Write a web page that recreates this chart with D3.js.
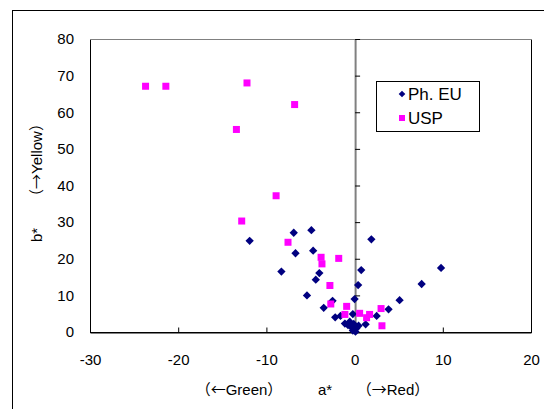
<!DOCTYPE html>
<html>
<head>
<meta charset="utf-8">
<script src="https://cdn.jsdelivr.net/npm/d3@7/dist/d3.min.js"></script>
<style>
    body { margin: 0; background: #fff; }
    svg text { font-family: "Liberation Sans", Arial, sans-serif; fill: #000; }
    svg tspan.cjk { font-family: "Noto Sans CJK JP", sans-serif; }
</style>
</head>
<body>
<svg id="chart" width="544" height="409"></svg>
<script>
'use strict';

// Ph. EU (a*, b*)
var euA = [-11.9, -6.9, -4.9, -6.7, -4.7, -8.3, -4.0, -4.4, -5.4, -2.5, -3.5, -2.2, -1.6,
    -0.2, 0.0, 0.4, 0.75, 1.9, 9.8, 7.6, 5.1, 3.85, 2.5, 1.25, -1.1, -0.75, -0.4, -0.2,
    0.2, 0.45, -0.55, -0.1, 0.1];
var euB = [24.9, 27.1, 27.8, 21.5, 22.2, 16.5, 16.1, 14.3, 10.0, 8.5, 6.6, 4.0, 4.4,
    4.9, 9.0, 12.8, 16.9, 25.3, 17.5, 13.1, 8.7, 6.2, 4.4, 2.1, 2.3, 1.9, 1.4, 0.4,
    1.0, 1.7, 2.8, 2.2, 0.1];

// USP (a*, b*)
var uspA = [-23.7, -21.4, -12.2, -6.8, -13.4, -8.9, -12.8, -7.55, -3.8, -1.8, -3.7, -2.8,
    -2.7, -0.9, 3.0, 0.57, 1.7, 1.36, -1.1, 3.1];
var uspB = [67.1, 67.1, 68.0, 62.1, 55.3, 37.2, 30.3, 24.5, 20.4, 20.1, 18.6, 12.7,
    7.65, 7.0, 6.4, 5.1, 4.8, 3.9, 4.8, 1.7];

var xTicks = [-30, -20, -10, 0, 10, 20];
var yTicks = [0, 10, 20, 30, 40, 50, 60, 70, 80];
var seriesNames = ['Ph. EU', 'USP'];

// text pieces; arrows go through the CJK font like the original
function title(svg, parts, attrs) {
    var t = svg.append('text').attr('text-anchor', 'middle').style('font-size', '15px');
    Object.keys(attrs).forEach(function (k) { t.attr(k, attrs[k]); });
    parts.forEach(function (p) {
        t.append('tspan').attr('class', p[1] ? 'cjk' : null).text(p[0]);
    });
    return t;
}

function draw() {
    var svg = d3.select('#chart');
    var pl = 90, pr = 531, pt = 39, pb = 332;
    var fmt = function (d) { return String(d); };

    var x = d3.scaleLinear().domain([-30, 20]).range([pl, pr]);
    var y = d3.scaleLinear().domain([0, 80]).range([pb, pt]);

    // outer chart frame (only top/left visible in the crop)
    svg.append('rect')
        .attr('x', 12.5).attr('y', 10.5)
        .attr('width', 600).attr('height', 500)
        .attr('fill', 'none').attr('stroke', '#000');

    // plot area
    svg.append('rect')
        .attr('x', pl + 0.5).attr('y', pt + 0.5)
        .attr('width', pr - pl).attr('height', pb - pt)
        .attr('fill', '#fff').attr('stroke', '#000');
    svg.append('line')
        .attr('x1', pl).attr('x2', pr + 1)
        .attr('y1', pt + 0.5).attr('y2', pt + 0.5)
        .attr('stroke', '#808080');

    // y axis line at a*=0, ticks pointing right
    var yAxisG = svg.append('g')
        .attr('transform', 'translate(' + (x(0) + 0.5) + ',0)')
        .call(d3.axisRight(y).tickValues(yTicks).tickSize(5).tickFormat('').tickSizeOuter(0));
    yAxisG.select('.domain').attr('stroke', '#808080').attr('stroke-width', 2);

    // y labels on the left edge
    var yLab = svg.append('g')
        .attr('transform', 'translate(' + pl + ',0)')
        .call(d3.axisLeft(y).tickValues(yTicks).tickSize(0).tickPadding(16).tickFormat(fmt));
    yLab.select('.domain').remove();
    yLab.selectAll('text').style('font-size', '15px');

    // x axis line at b*=0, ticks pointing up
    svg.append('g')
        .attr('transform', 'translate(0,' + (pb + 0.5) + ')')
        .call(d3.axisTop(x).tickValues(xTicks).tickSize(5).tickFormat('').tickSizeOuter(0));

    var xLab = svg.append('g')
        .attr('transform', 'translate(0,' + pb + ')')
        .call(d3.axisBottom(x).tickValues(xTicks).tickSize(0).tickPadding(22).tickFormat(fmt));
    xLab.select('.domain').remove();
    xLab.selectAll('text').style('font-size', '15px');

    // axis titles
    title(svg, [['（←', 1], ['Green'], ['）', 1]], { x: 239, y: 395 });
    title(svg, [['a*']], { x: 325, y: 395 });
    title(svg, [['（→', 1], ['Red'], ['）', 1]], { x: 393, y: 395 });

    title(svg, [['b*']], { transform: 'translate(42,235) rotate(-90)' });
    title(svg, [['（→', 1], ['Yellow'], ['）', 1]], { transform: 'translate(42,160) rotate(-90)' });

    // markers
    var diamond = d3.symbol().type(d3.symbolDiamond2).size(44);
    var plot = svg.append('g');

    plot.selectAll('path.eu')
        .data(d3.range(euA.length))
        .enter().append('path')
        .attr('class', 'eu')
        .attr('d', diamond)
        .attr('transform', function (i) { return 'translate(' + x(euA[i]) + ',' + y(euB[i]) + ')'; })
        .attr('fill', '#000080');

    plot.selectAll('rect.usp')
        .data(d3.range(uspA.length))
        .enter().append('rect')
        .attr('class', 'usp')
        .attr('x', function (i) { return x(uspA[i]) - 3.5; })
        .attr('y', function (i) { return y(uspB[i]) - 3.5; })
        .attr('width', 7).attr('height', 7)
        .attr('fill', '#ff00ff');

    // legend
    var lg = svg.append('g').attr('transform', 'translate(376,81)');
    lg.append('rect').attr('x', 0.5).attr('y', 0.5).attr('width', 103).attr('height', 50)
        .attr('fill', '#fff').attr('stroke', '#000');
    lg.append('path').attr('d', d3.symbol().type(d3.symbolDiamond2).size(28))
        .attr('transform', 'translate(26,13)').attr('fill', '#000080');
    lg.append('rect').attr('x', 23).attr('y', 34).attr('width', 6).attr('height', 6)
        .attr('fill', '#ff00ff');
    lg.selectAll('text.lab')
        .data(seriesNames)
        .enter().append('text')
        .attr('class', 'lab')
        .attr('x', 32)
        .attr('y', function (d, i) { return 19 + i * 24; })
        .style('font-size', '17px')
        .text(function (d) { return d; });
}

draw();
</script>
</body>
</html>
